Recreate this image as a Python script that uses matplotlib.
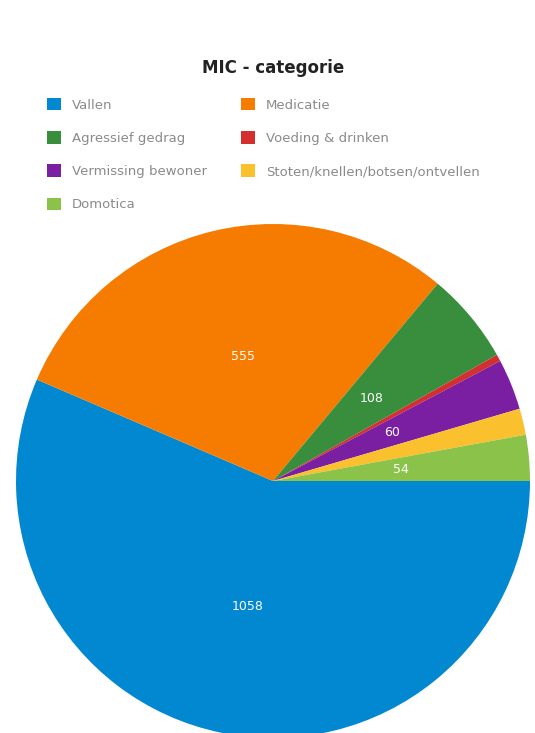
import matplotlib.pyplot as plt

categories = ["Vallen", "Medicatie", "Agressief gedrag", "Voeding & drinken",
              "Vermissing bewoner", "Stoten/knellen/botsen/ontvellen", "Domotica"]
values = [1058, 555, 108, 8, 60, 31, 54]
colors = ["#0288D1", "#F57C00", "#388E3C", "#D32F2F", "#7B1FA2", "#FBC02D", "#8BC34A"]
total = sum(values)

fig = plt.figure(figsize=(5.35, 7.33), dpi=100)
# pie centre at (273, 481) px, radius 257 px
ax = fig.add_axes([16 / 535, (733 - 738) / 733, 514 / 535, 514 / 733])

def fmt(p):
    v = round(p * total / 100)
    return str(v) if p > 2.8 else ""

wedges, texts, autotexts = ax.pie(values, colors=colors, startangle=0, counterclock=False,
                                  autopct=fmt, pctdistance=0.5, radius=1,
                                  wedgeprops=dict(linewidth=0),
                                  textprops=dict(color="white", fontsize=9))
ax.set_xlim(-1, 1)
ax.set_ylim(-1, 1)
ax.set_aspect("auto")
ax.axis("off")

fig.text(273 / 535, 1 - 68 / 733, "MIC - categorie", ha="center", va="center",
         fontsize=12, fontweight="bold", color="#222222")

# legend is filled row by row in the original
order = [0, 2, 4, 6, 1, 3, 5]
leg = fig.legend([wedges[i] for i in order], [categories[i] for i in order],
                 loc="upper left", bbox_to_anchor=(47 / 535, 1 - 98 / 733),
                 ncol=2, frameon=False, fontsize=9.5, borderpad=0, borderaxespad=0,
                 handlelength=1.06, handleheight=1.06, handletextpad=0.83,
                 labelspacing=1.48, columnspacing=2.57)
for t in leg.get_texts():
    t.set_color("#8a8a8a")

plt.savefig("out.png", dpi=100)
